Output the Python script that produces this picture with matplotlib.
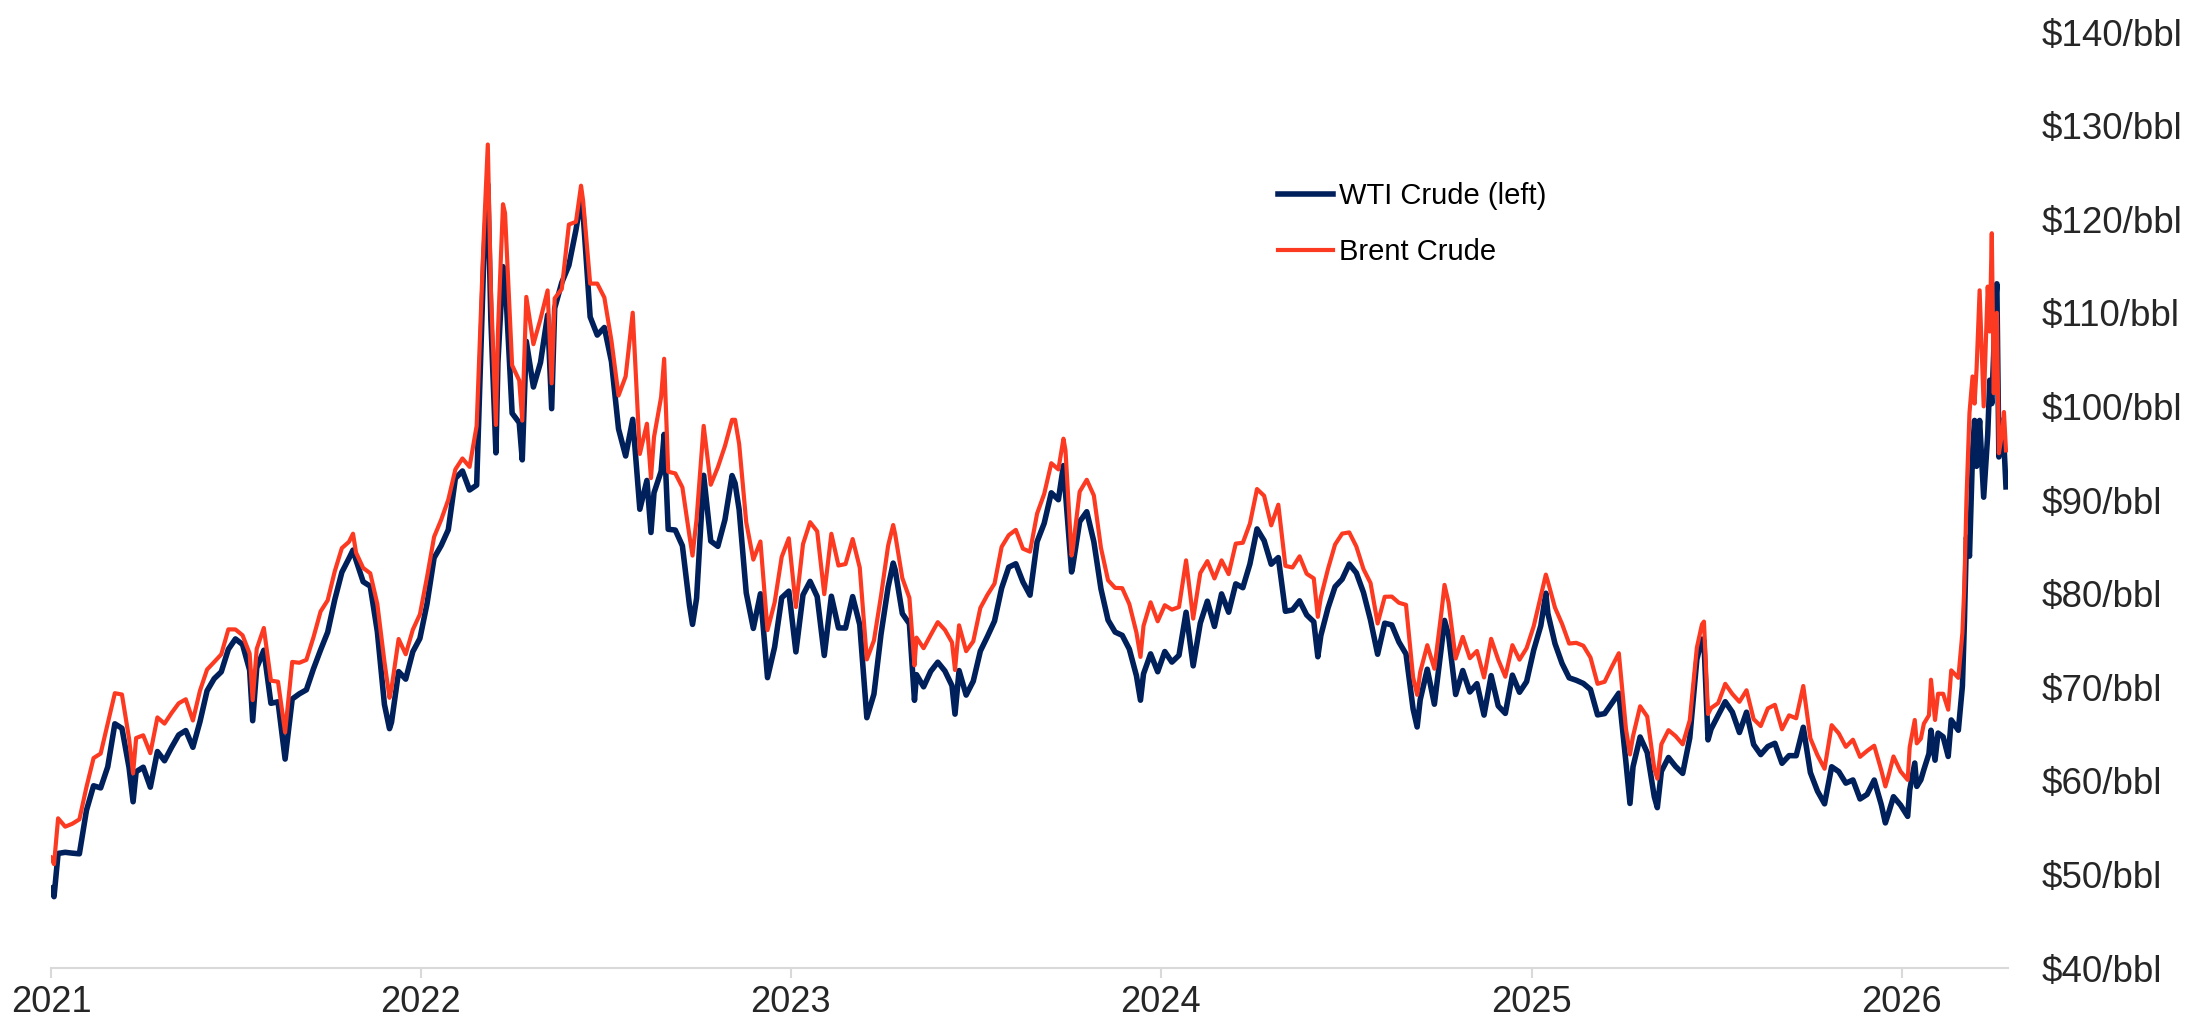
import pandas as pd
import matplotlib
matplotlib.use('Agg')
import matplotlib.pyplot as plt
import matplotlib.dates as mdates

plt.rcParams['font.family'] = ['Liberation Sans', 'DejaVu Sans']

# Weekly (Friday) closes, $/bbl
wti_2021 = [48.52, 52.24, 52.36, 52.27, 52.20, 56.85, 59.47, 59.24, 61.50, 66.09,
            65.61, 61.42, 60.97, 61.45, 59.32, 63.13, 62.14, 63.58, 64.90, 65.37,
            63.58, 66.32, 69.62, 70.91, 71.64, 74.05, 75.16, 74.56, 71.81, 72.07,
            73.95, 68.28, 68.44, 62.32, 68.74, 69.29, 69.72, 71.97, 73.98, 75.88,
            79.35, 82.28, 83.76, 83.57, 81.27, 80.79, 75.94, 68.15, 66.26, 71.67,
            70.86, 73.79, 75.21]
brent_2021 = [51.80, 55.99, 55.10, 55.41, 55.88, 59.34, 62.43, 62.91, 66.13, 69.36,
              69.22, 64.53, 64.57, 64.86, 62.95, 66.77, 66.11, 67.25, 68.28, 68.71,
              66.44, 69.63, 71.89, 72.69, 73.51, 76.18, 76.17, 75.55, 73.59, 74.10,
              76.33, 70.70, 70.59, 65.18, 72.70, 72.61, 72.92, 75.34, 78.09, 79.28,
              82.39, 84.86, 85.53, 84.38, 82.74, 82.17, 78.89, 72.72, 69.88, 75.15,
              73.52, 76.14, 77.78]

wti_2022 = [78.90, 83.82, 85.14, 86.82, 92.31, 93.10, 91.07, 91.59, 115.68, 109.33,
            104.70, 113.90, 99.27, 98.26, 106.95, 102.07, 104.69, 109.77, 110.49, 113.23,
            115.07, 118.87, 120.67, 109.56, 107.62, 108.43, 104.79, 97.59, 94.70, 98.62,
            89.01, 92.09, 90.77, 93.06, 86.87, 86.79, 85.11, 78.74, 79.49, 92.64,
            85.61, 85.05, 87.90, 92.61, 88.96, 80.08, 76.28, 79.98, 71.02, 74.29,
            79.56, 80.26]
brent_2022 = [81.75, 86.06, 87.89, 90.03, 93.27, 94.44, 93.54, 97.93, 118.11, 112.67,
              107.93, 120.65, 104.39, 102.78, 111.70, 106.65, 109.34, 112.39, 111.55, 112.55,
              119.43, 119.72, 122.01, 113.12, 113.12, 111.63, 107.02, 101.16, 103.20, 110.01,
              94.92, 98.15, 96.72, 100.99, 93.02, 92.84, 91.35, 86.15, 87.96, 97.92,
              91.63, 93.50, 95.77, 98.57, 95.99, 87.62, 83.63, 85.57, 76.10, 79.04,
              83.92, 85.91]

wti_2023 = [73.77, 79.86, 81.31, 79.68, 73.39, 79.72, 76.34, 76.32, 79.68, 76.68,
            66.74, 69.26, 75.67, 80.70, 82.52, 77.87, 76.78, 71.34, 70.04, 71.69,
            72.67, 71.74, 70.17, 71.78, 69.16, 70.64, 73.86, 75.42, 77.07, 80.58,
            82.82, 83.19, 81.25, 79.83, 85.55, 87.51, 90.77, 90.03, 90.79, 82.79,
            87.69, 88.75, 85.54, 80.51, 77.17, 75.89, 75.54, 74.07, 71.23, 71.43,
            73.56, 71.65]
brent_2023 = [78.57, 85.28, 87.63, 86.66, 79.94, 86.39, 83.00, 83.16, 85.83, 82.78,
              72.97, 74.99, 79.77, 85.12, 86.31, 81.66, 79.54, 75.30, 74.17, 75.58,
              76.95, 76.13, 74.79, 76.61, 73.85, 74.90, 78.47, 79.87, 81.07, 84.99,
              86.24, 86.81, 84.80, 84.48, 88.55, 90.65, 93.93, 93.27, 95.31, 84.58,
              90.89, 92.16, 90.48, 84.89, 81.43, 80.61, 80.58, 78.88, 75.84, 76.55,
              79.07, 77.04]

wti_2024 = [73.81, 72.68, 73.41, 78.01, 72.28, 76.84, 79.19, 76.49, 79.97, 78.01,
            81.04, 80.63, 83.17, 86.91, 85.66, 83.14, 83.85, 78.11, 78.26, 79.23,
            77.72, 76.99, 75.53, 78.45, 80.73, 81.54, 83.16, 82.21, 80.13, 77.16,
            73.52, 76.84, 76.65, 74.83, 73.55, 67.67, 68.65, 71.92, 68.18, 74.38,
            75.56, 69.22, 71.78, 69.49, 70.38, 67.02, 71.24, 68.00, 67.20, 71.29,
            69.46, 70.60]
brent_2024 = [78.76, 78.29, 78.56, 83.55, 77.33, 82.19, 83.47, 81.62, 83.55, 82.08,
              85.34, 85.43, 87.48, 91.17, 90.45, 87.29, 89.50, 82.96, 82.79, 83.98,
              82.12, 81.62, 79.62, 82.62, 85.24, 86.41, 86.54, 85.03, 82.63, 81.13,
              76.81, 79.66, 79.68, 79.02, 78.80, 71.06, 71.61, 74.49, 71.98, 78.05,
              79.04, 73.06, 75.38, 73.10, 73.87, 71.04, 75.17, 72.94, 71.12, 74.49,
              72.94, 74.17]

wti_2025 = [73.96, 76.57, 77.88, 74.66, 72.53, 71.00, 70.74, 70.40, 69.76, 67.04,
            67.18, 68.28, 69.36, 61.99, 61.50, 64.68, 63.02, 58.29, 61.02, 62.49,
            61.53, 60.79, 64.58, 72.98, 74.93, 65.52, 67.00, 68.45, 67.34, 65.16,
            67.33, 63.88, 62.80, 63.66, 64.01, 61.87, 62.69, 62.68, 65.72, 60.88,
            58.90, 57.54, 61.50, 60.98, 59.75, 60.09, 58.06, 58.55, 60.08, 57.44]
brent_2025 = [76.51, 79.76, 81.29, 78.50, 76.76, 74.66, 74.74, 74.43, 73.18, 70.36,
              70.58, 72.16, 73.63, 65.58, 64.76, 67.96, 66.87, 61.29, 63.91, 65.41,
              64.78, 63.90, 66.47, 74.23, 77.01, 67.77, 68.30, 70.36, 69.28, 68.44,
              69.67, 66.59, 65.85, 67.73, 68.12, 65.50, 66.99, 66.68, 70.13, 64.53,
              62.73, 61.29, 65.94, 65.07, 63.63, 64.39, 62.56, 63.20, 63.75, 61.12]

year_starts = ['2021-01-01', '2022-01-07', '2023-01-06', '2024-01-05', '2025-01-03']

# Intra-week highs/lows visible in the chart
extra_dates = ['2021-01-04', '2021-03-23', '2021-07-19', '2021-10-26', '2021-12-01',
               '2022-03-08', '2022-03-16', '2022-03-23', '2022-04-11', '2022-05-10',
               '2022-06-08', '2022-08-16', '2022-08-29', '2022-09-26', '2022-11-07',
               '2023-04-12', '2023-05-03', '2023-06-12', '2023-09-27', '2023-10-05',
               '2023-12-12', '2024-06-04', '2024-09-10', '2024-10-07', '2025-01-15',
               '2025-04-08', '2025-05-05', '2025-06-18', '2025-06-24']
extra_wti = [47.62, 57.76, 66.42, 84.65, 65.57,
             123.70, 95.04, 114.93, 94.29, 99.76,
             122.11, 86.53, 97.01, 76.71, 91.79,
             83.26, 68.60, 67.12, 93.68, 82.31,
             68.61, 73.25, 65.75, 77.14, 80.04,
             57.58, 57.13, 75.14, 64.37]
extra_brent = [51.09, 60.79, 68.62, 86.40, 68.87,
               127.98, 98.02, 121.60, 98.48, 102.46,
               123.58, 92.34, 105.09, 84.06, 98.57,
               87.33, 72.33, 71.84, 96.55, 84.07,
               73.24, 77.52, 69.19, 80.93, 82.03,
               62.82, 60.23, 76.70, 67.14]

# Most recent months, read at finer spacing
recent_dates = ['2025-12-16', '2025-12-19', '2025-12-24', '2025-12-31', '2026-01-07',
                '2026-01-09', '2026-01-14', '2026-01-16', '2026-01-20', '2026-01-23',
                '2026-01-28', '2026-01-30', '2026-02-03', '2026-02-06', '2026-02-11',
                '2026-02-16', '2026-02-19', '2026-02-26', '2026-03-02', '2026-03-04',
                '2026-03-06', '2026-03-09', '2026-03-12', '2026-03-14', '2026-03-16',
                '2026-03-19', '2026-03-23', '2026-03-27', '2026-03-29', '2026-03-31',
                '2026-04-02', '2026-04-03', '2026-04-05', '2026-04-07', '2026-04-10',
                '2026-04-12', '2026-04-14']
recent_wti = [55.5, 56.5, 58.3, 57.4, 56.2, 59.0, 61.9, 59.4, 60.1, 61.2,
              62.9, 65.4, 62.2, 65.1, 64.7, 62.6, 66.5, 65.4, 70.1, 77.0,
              86.0, 84.0, 95.0, 98.5, 93.6, 98.5, 90.3, 97.0, 102.8, 100.3,
              106.0, 110.0, 113.1, 94.6, 98.5, 96.0, 91.4]
recent_brent = [59.4, 60.5, 62.6, 61.0, 60.1, 63.6, 66.5, 64.0, 64.5, 66.1,
                67.0, 70.8, 66.5, 69.3, 69.3, 67.6, 71.8, 71.0, 75.8, 81.0,
                90.0, 99.3, 103.2, 100.3, 104.0, 112.4, 100.0, 112.8, 108.0, 118.5,
                101.4, 109.6, 110.0, 95.0, 97.0, 99.4, 95.3]

y_ticks = [40, 50, 60, 70, 80, 90, 100, 110, 120, 130, 140]
years = [2021, 2022, 2023, 2024, 2025, 2026]

# Assemble one frame
frames = []
for start, w, b in zip(year_starts,
                       [wti_2021, wti_2022, wti_2023, wti_2024, wti_2025],
                       [brent_2021, brent_2022, brent_2023, brent_2024, brent_2025]):
    idx = pd.date_range(start, periods=len(w), freq='7D')
    frames.append(pd.DataFrame({'wti': w, 'brent': b}, index=idx))
frames.append(pd.DataFrame({'wti': extra_wti, 'brent': extra_brent},
                           index=pd.to_datetime(extra_dates)))
frames.append(pd.DataFrame({'wti': recent_wti, 'brent': recent_brent},
                           index=pd.to_datetime(recent_dates)))
df = pd.concat(frames).sort_index()

navy = '#00205B'
red = '#FC3A22'

fig = plt.figure(figsize=(21.89, 10.31), dpi=100)
ax = fig.add_axes([51 / 2189, 63 / 1031, (2008 - 51) / 2189, (999 - 63) / 1031])

ax.plot(df.index, df['wti'], color=navy, lw=4.0, label='WTI Crude (left)', solid_joinstyle='round')
ax.plot(df.index, df['brent'], color=red, lw=3.0, label='Brent Crude', solid_joinstyle='round')

ax.set_xlim(pd.Timestamp('2021-01-01'), pd.Timestamp('2026-04-16'))
ax.set_ylim(40, 140)

ax.set_xticks([pd.Timestamp(f'{y}-01-01') for y in years])
ax.xaxis.set_major_formatter(mdates.DateFormatter('%Y'))
ax.tick_params(axis='x', length=7, width=1.5, color='#d9d9d9', pad=5,
               labelsize=26, labelcolor='#262626')

ax.yaxis.tick_right()
ax.set_yticks(y_ticks)
ax.set_yticklabels([f'${v}/bbl' for v in y_ticks])
ax.tick_params(axis='y', length=0, pad=24, labelsize=26.5, labelcolor='#262626')

for side in ['top', 'left', 'right']:
    ax.spines[side].set_visible(False)
ax.spines['bottom'].set_color('#d9d9d9')
ax.spines['bottom'].set_linewidth(1.5)

ax.legend(loc='upper left', bbox_to_anchor=(1278 / 2189, (1031 - 182) / 1031),
          bbox_transform=fig.transFigure, frameon=False, fontsize=21,
          handlelength=1.9, handletextpad=0.2, labelspacing=0.95, borderpad=0,
          borderaxespad=0)

plt.savefig('out.png', dpi=100)
